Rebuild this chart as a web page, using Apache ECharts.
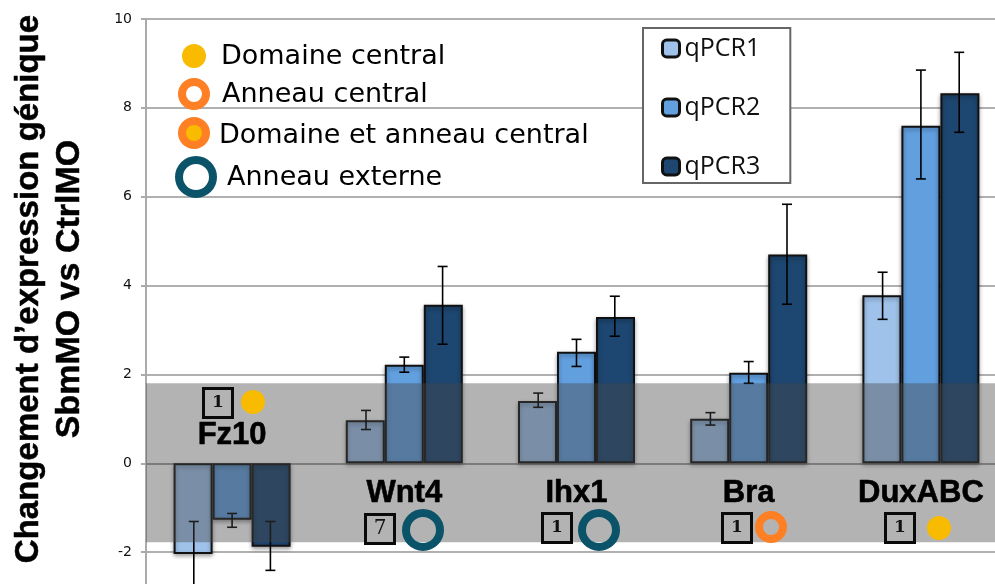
<!DOCTYPE html>
<html><head><meta charset="utf-8">
<style>html,body{margin:0;padding:0;background:#fff}#c{width:995px;height:584px}</style>
<script src="https://cdn.jsdelivr.net/npm/echarts@6/dist/echarts.min.js"></script>
</head><body><div id="c"></div>
<script>
const genes = ['Fz10','Wnt4','Ihx1','Bra','DuxABC'];
const qPCR1 = [-2.04,0.97,1.40,1.00,3.78];
const qPCR2 = [-1.27,2.22,2.51,2.04,7.60];
const qPCR3 = [-1.88,3.57,3.29,4.70,8.33];
const err1Low = [-2.77,0.76,1.26,0.86,3.24];
const err1High = [-1.31,1.19,1.58,1.14,4.30];
const err2Low = [-1.44,2.05,2.18,1.80,6.40];
const err2High = [-1.13,2.39,2.79,2.29,8.85];
const err3Low = [-2.41,2.68,2.86,3.58,7.45];
const err3High = [-1.31,4.43,3.76,5.83,9.25];
const bandLimits = [-1.78,1.80];
const geneLabelY = [0.63,-0.67,-0.67,-0.67,-0.67];
const boxCounts = ['1','7','1','1','1'];
const domainLegend = ['Domaine central','Anneau central','Domaine et anneau central','Anneau externe'];

const YEL='#f8bb00', ORG='#fe7f24', TEAL='#0b5369';
const barStyle = c => ({color:c,borderColor:'#111',borderWidth:2,shadowBlur:4,shadowColor:'rgba(0,0,0,.35)',shadowOffsetY:2});
const bar = (name,data,c) => ({name,type:'bar',data,barWidth:39,barGap:'0%',z:2,itemStyle:barStyle(c),
  emphasis:{disabled:true},animation:false});
const errSeries = (low,high,idx) => ({type:'custom',z:3,silent:true,animation:false,clip:false,
  data:genes.map((g,i)=>[i,low[i],high[i]]),encode:{x:0,y:[1,2]},
  renderItem(p,api){
    const dx=idx*38.3, a=api.coord([api.value(0),api.value(1)]), b=api.coord([api.value(0),api.value(2)]);
    const x=a[0]+dx, st={stroke:'#000',lineWidth:1.6,fill:null}, cap=5;
    return {type:'group',children:[
      {type:'line',shape:{x1:x,y1:a[1],x2:x,y2:b[1]},style:st},
      {type:'line',shape:{x1:x-cap,y1:a[1],x2:x+cap,y2:a[1]},style:st},
      {type:'line',shape:{x1:x-cap,y1:b[1],x2:x+cap,y2:b[1]},style:st}]};
  }});
const circle=(cx,cy,r,fill,z=7)=>({type:'circle',z,shape:{cx,cy,r},style:{fill}});
const ring=(cx,cy,r,w,stroke)=>({type:'circle',z:7,shape:{cx,cy,r:r-w/2},style:{fill:'transparent',stroke,lineWidth:w}});
const txt=(x,y,text,fs=27)=>({type:'text',z:7,x,y,style:{text,fill:'#000',font:fs+'px "DejaVu Sans"',textVerticalAlign:'middle',textAlign:'left'}});
const box=(cx,cy,t)=>({type:'group',z:7,children:[
  {type:'rect',z:7,shape:{x:cx-14.5,y:cy-14.5,width:29,height:29},style:{fill:'transparent',stroke:'#0a0a0a',lineWidth:3}},
  {type:'text',z:7,x:cx,y:cy,style:{text:t,fill:'#111',font:(t==='7'?'20px':'bold 17px')+' "DejaVu Serif"',textAlign:'center',textVerticalAlign:'middle'}}]});

const chart=echarts.init(document.getElementById('c'),null,{renderer:'canvas'});
const titleFont={fontFamily:'Liberation Sans',fontWeight:'bold',color:'#000',textBorderColor:'#000',textBorderWidth:0.5};
chart.setOption({
  animation:false,backgroundColor:'#fff',
  grid:{left:146,top:19,width:861,height:622,containLabel:false,outerBoundsMode:'none'},
  xAxis:{type:'category',data:genes,axisLabel:{show:false},axisTick:{show:false},
    axisLine:{onZero:true,lineStyle:{color:'#9c9c9c',width:1.5}}},
  yAxis:{type:'value',min:-4,max:10,interval:2,
    name:'{a|Changement d’expression génique}\n{b|SbmMO vs CtrlMO}',nameLocation:'middle',nameGap:56,nameRotate:90,
    nameTextStyle:{padding:[0,0,0,82],rich:{a:{...titleFont,fontSize:33,lineHeight:41},b:{...titleFont,fontSize:34,lineHeight:41}}},
    axisLine:{show:true,onZero:false,lineStyle:{color:'#ababab',width:2}},
    axisTick:{show:true,length:5,lineStyle:{color:'#ababab',width:2}},
    axisLabel:{fontFamily:'DejaVu Sans',fontSize:14,color:'#111',margin:14},
    splitLine:{lineStyle:{color:'#b0b0b0',width:2}}},
  legend:{data:['qPCR1','qPCR2','qPCR3'],orient:'vertical',left:643,top:28,backgroundColor:'#fff',
    borderColor:'#666',borderWidth:2,padding:[8,30,4,18],itemWidth:17,itemHeight:17,itemGap:34,
    textStyle:{fontFamily:'Open Sans',fontSize:25,color:'#111'},
    itemStyle:{borderColor:'#111',borderWidth:3},selectedMode:false,z:8},
  series:[
    bar('qPCR1',qPCR1,'#9fc2ea'),bar('qPCR2',qPCR2,'#629fdf'),bar('qPCR3',qPCR3,'#1d4670'),
    errSeries(err1Low,err1High,-1),errSeries(err2Low,err2High,0),errSeries(err3Low,err3High,1),
    {type:'custom',z:4,silent:true,animation:false,data:[[0,bandLimits[0],bandLimits[1]]],encode:{x:0,y:[1,2]},
      renderItem(p,api){const lo=api.coord([0,api.value(1)])[1],hi=api.coord([0,api.value(2)])[1];
        return {type:'rect',shape:{x:p.coordSys.x,y:hi,width:p.coordSys.width,height:lo-hi},style:{fill:'rgba(70,70,70,.41)'}};}},
    {type:'custom',z:6,silent:true,animation:false,clip:false,data:genes.map((g,i)=>[i,geneLabelY[i]]),encode:{x:0,y:1},
      renderItem(p,api){const c=api.coord([api.value(0),api.value(1)]);
        return {type:'text',x:c[0],y:c[1],style:{text:genes[api.value(0)],fill:'#000',stroke:'#000',lineWidth:0.6,font:'bold 31px "Liberation Sans"',textAlign:'center',textVerticalAlign:'middle'}};}}
  ],
  graphic:{elements:[
    circle(194,56,12,YEL),txt(221,57,domainLegend[0]),
    ring(194,94,16,8,ORG),txt(222,95,domainLegend[1]),
    circle(194,133,16,ORG),circle(194,133,8,YEL,8),txt(219,136,domainLegend[2]),
    ring(196,177,21,8,TEAL),txt(227,178,domainLegend[3]),
    box(218,403,boxCounts[0]),circle(253,402,12,YEL),
    box(380,529,boxCounts[1]),ring(423,530,21,8,TEAL),
    box(557,528,boxCounts[2]),ring(599,530,21,8,TEAL),
    box(737,528,boxCounts[3]),ring(771,527,16,8,ORG),
    box(900,528,boxCounts[4]),circle(939,528,12,YEL)
  ]}
});
</script></body></html>
